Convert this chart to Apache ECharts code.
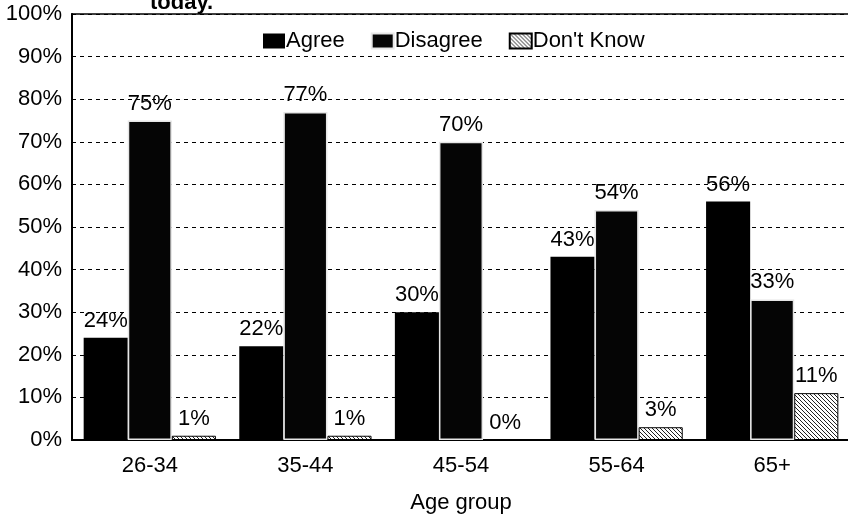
<!DOCTYPE html>
<html>
<head>
<meta charset="utf-8">
<script src="https://cdn.jsdelivr.net/npm/echarts@6/dist/echarts.min.js"></script>
<style>
  html, body { margin: 0; padding: 0; background: #fff; }
  #chart { width: 848px; height: 514px; }
</style>
</head>
<body>
<div id="chart"></div>
<script>
// Survey answers by age group (percent of respondents)
const ageGroups = ['26-34', '35-44', '45-54', '55-64', '65+'];
const agree = [24, 22, 30, 43, 56];
const disagree = [75, 77, 70, 54, 33];
const dontKnow = [1, 1, 0, 3, 11];
const seriesNames = ['Agree', 'Disagree', "Don't Know"];

const FONT = '"Liberation Sans", Arial, Helvetica, sans-serif';
const FS = 22;

// Diagonal hatch fill for the "Don't Know" bars
function hatchPattern() {
  const c = document.createElement('canvas');
  c.width = 4; c.height = 4;
  const g = c.getContext('2d');
  g.fillStyle = '#fff';
  g.fillRect(0, 0, 4, 4);
  g.strokeStyle = '#222';
  g.lineWidth = 1;
  g.beginPath();
  g.moveTo(-1, -1); g.lineTo(5, 5);
  g.moveTo(-1, 3); g.lineTo(1, 5);
  g.moveTo(3, -1); g.lineTo(5, 1);
  g.stroke();
  return { image: c, repeat: 'repeat' };
}

const labelStyle = {
  show: true,
  position: 'top',
  distance: 6,
  formatter: '{c}%',
  color: '#000',
  fontSize: FS,
  fontFamily: FONT
};

const chart = echarts.init(document.getElementById('chart'), null, { renderer: 'canvas' });

chart.setOption({
  animation: false,
  backgroundColor: '#fff',
  title: {
    text: 'today.',
    left: 145,
    top: -13,
    textStyle: { fontSize: FS, fontWeight: 'bold', fontFamily: FONT, color: '#000' }
  },
  legend: {
    top: 25,
    left: 258,
    icon: 'rect',
    itemWidth: 22,
    itemHeight: 15,
    itemGap: 26,
    textStyle: { fontSize: FS, fontFamily: FONT, color: '#000', padding: [0, 0, 0, -4] },
    data: seriesNames
  },
  grid: {
    left: 72, right: -2, top: 14, bottom: 74,
    containLabel: false,
    outerBoundsMode: 'none',
    show: true, borderColor: '#000', borderWidth: 1.5
  },
  xAxis: {
    type: 'category',
    data: ageGroups,
    name: 'Age group',
    nameLocation: 'middle',
    nameGap: 52,
    nameTextStyle: { fontSize: FS, fontFamily: FONT, color: '#000' },
    axisLine: { lineStyle: { color: '#000', width: 2 } },
    axisTick: { show: false },
    axisLabel: { margin: 15, fontSize: FS, fontFamily: FONT, color: '#000' }
  },
  yAxis: {
    type: 'value',
    min: 0,
    max: 100,
    interval: 10,
    axisLine: { show: true, lineStyle: { color: '#000', width: 2 } },
    axisTick: { show: false },
    axisLabel: { formatter: '{value}%', margin: 10, fontSize: FS, fontFamily: FONT, color: '#000' },
    splitLine: { lineStyle: { color: '#000', type: [4, 4], width: 1 } }
  },
  series: [
    {
      name: seriesNames[0],
      type: 'bar',
      data: agree,
      barGap: '0%',
      barCategoryGap: '15%',
      itemStyle: { color: '#000' },
      label: labelStyle
    },
    {
      name: seriesNames[1],
      type: 'bar',
      data: disagree,
      itemStyle: { color: '#050505', borderColor: '#e6e6e6', borderWidth: 1.5 },
      label: labelStyle
    },
    {
      name: seriesNames[2],
      type: 'bar',
      data: dontKnow,
      itemStyle: { color: hatchPattern(), borderColor: '#000', borderWidth: 1 },
      label: labelStyle
    }
  ]
});
</script>
</body>
</html>
